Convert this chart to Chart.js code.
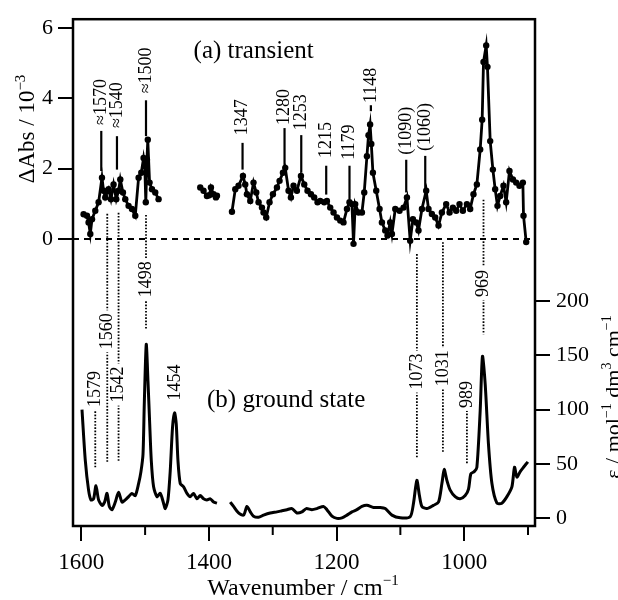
<!DOCTYPE html>
<html>
<head>
<meta charset="utf-8">
<script src="https://cdn.jsdelivr.net/npm/chart.js@4.4.1/dist/chart.umd.min.js"></script>
<style>
  html, body { margin: 0; padding: 0; background: #fff; }
  #wrap { width: 618px; height: 600px; }
</style>
</head>
<body>
<div id="wrap"><canvas id="chart" width="618" height="600"></canvas></div>
<script>
// --- data ---
// (a) transient spectrum, ΔAbs / 10^-3 (null = no data)
const transientWn = [
  1596.4, 1591.1, 1588.6, 1585.9, 1583.2, 1578.1, 1572.9, 1567.6, 1565.1, 1562.4, 1557.2, 1553.5,
  1549.4, 1545.2, 1541.6, 1538.9, 1534.7, 1531.1, 1525.9, 1520.6, 1515.4, 1510.2, 1506.0, 1502.4,
  1500.5, 1498.9, 1497.1, 1495.8, 1493.0, 1489.2, 1484.1, 1478.9,
  1450,
  1413.6, 1408.4, 1403.1, 1399.5, 1396.8, 1392.7, 1389.0, 1387.4,
  1375,
  1363.9, 1358.7, 1353.6, 1346.7, 1343.1, 1340.4, 1335.2, 1330.1, 1325.8, 1322.2, 1316.9, 1314.4,
  1310.2, 1305.0, 1299.7, 1293.4, 1289.3, 1284.0, 1280.4, 1275.2, 1271.5, 1267.4, 1262.1, 1255.8,
  1250.6, 1245.5, 1240.1, 1235.0, 1229.8, 1225.6, 1219.3, 1215.1, 1209.9, 1204.7, 1199.4, 1194.2,
  1189.1, 1183.7, 1179.7, 1175.9, 1173.4, 1170.7, 1165.5, 1160.2, 1156.6, 1152.4, 1149.9, 1147.4,
  1145.5, 1143.0, 1137.8, 1132.6, 1128.9, 1123.7, 1120.1, 1115.9, 1113.2, 1108.0, 1101.3, 1095.0,
  1089.7, 1084.6, 1080.3, 1075.2, 1071.6, 1066.2, 1059.5, 1055.9, 1050.6, 1045.4, 1040.2, 1034.9,
  1028.2, 1022.9, 1017.7, 1012.5, 1007.3, 1002.0, 995.7, 990.6, 985.4, 980.1, 974.9, 971.8,
  969.7, 965.5, 963.5, 959.2, 955.0, 951.4, 947.8, 943.6, 938.4, 934.2, 929.0, 923.6,
  918.5, 913.3, 908.0, 907.0, 902.8
];
const transientVal = [
  0.70, 0.66, 0.47, 0.14, 0.56, 0.80, 1.04, 1.74, 1.37, 1.18, 1.41, 1.13,
  1.55, 1.13, 1.37, 1.69, 1.32, 1.13, 0.94, 0.85, 0.66, 1.74, 1.88, 2.30,
  2.07, 1.04, 2.25, 2.82, 1.60, 1.41, 1.32, 1.13,
  null,
  1.46, 1.37, 1.22, 1.24, 1.46, 1.27, 1.18, 1.23,
  null,
  0.77, 1.41, 1.51, 1.79, 1.55, 1.27, 1.08, 1.60, 1.32, 1.04, 0.89, 0.75,
  0.61, 1.04, 1.27, 1.46, 1.65, 1.88, 2.02, 1.37, 1.18, 1.51, 1.37, 1.79,
  1.55, 1.37, 1.27, 1.18, 1.04, 1.08, 1.04, 1.08, 0.89, 0.75, 0.61, 0.52,
  0.47, 0.85, 1.04, 0.99, -0.14, 0.99, 0.75, 0.75, 1.32, 2.35, 2.95, 3.25,
  2.70, 1.88, 1.37, 0.85, 0.47, 0.24, 0.10, 0.47, 0.14, 0.85, 0.80, 0.89,
  1.18, -0.05, 0.56, 0.47, 0.24, 0.85, 1.37, 0.85, 0.71, 0.61, 0.38, 0.75,
  0.99, 0.75, 0.89, 0.80, 0.99, 0.80, 0.99, 0.85, 1.27, 1.55, 2.54, 3.39,
  5.03, 5.50, 4.89, 2.78, 1.97, 1.41, 0.94, 1.22, 1.51, 1.04, 1.93, 1.69,
  1.60, 1.51, 1.60, 0.66, -0.09
];

// (b) ground state spectrum, ε / mol^-1 dm^3 cm^-1
const groundWn = [
  1598.9, 1593.7, 1588.6, 1584.8, 1580.7, 1577.0, 1572.9, 1567.6, 1563.5, 1559.7, 1556.1, 1551.9,
  1546.7, 1541.6, 1536.2, 1531.1, 1525.9, 1520.6, 1515.4, 1510.2, 1506.5, 1503.3, 1501.3, 1498.2,
  1495.5, 1493.0, 1490.3, 1486.7, 1481.4, 1476.2, 1471.1, 1468.4, 1464.2, 1460.6, 1457.0, 1453.8,
  1451.2, 1448.5, 1444.9, 1439.7, 1434.4, 1429.2, 1424.1, 1418.7, 1413.6, 1408.4, 1403.1, 1397.9,
  1392.7, 1387.4,
  1377,
  1366.6, 1361.4, 1353.6, 1345.7, 1340.4, 1335.2, 1330.1, 1322.2, 1314.4, 1303.9, 1293.4, 1285.6,
  1277.7, 1269.9, 1262.1, 1254.2, 1247.5, 1238.6, 1230.7, 1220.4, 1215.1, 1207.2, 1199.4, 1191.5,
  1183.7, 1175.9, 1168.1, 1160.2, 1152.4, 1142.1, 1131.6, 1123.7, 1113.2, 1100.2, 1084.6, 1079.4,
  1074.2, 1070.1, 1066.2, 1058.4, 1048.1, 1040.2, 1034.9, 1031.3, 1027.1, 1021.9, 1014.1, 1006.3,
  998.4, 993.2, 989.5, 984.3, 980.1, 974.9, 971.3, 967.0, 961.9, 956.5, 948.7, 940.9,
  933.0, 925.2, 921.1, 917.4, 912.2, 907.0, 900.2
];
const groundEps = [
  100, 53, 26, 17, 18, 30, 17, 12, 15, 23, 11, 8,
  15, 24, 15, 17, 20, 23, 21, 32, 43, 59, 105, 160,
  126, 90, 53, 29, 20, 23, 14, 9, 17, 44, 84, 97,
  87, 53, 32, 29, 23, 20, 23, 18, 21, 18, 17, 18,
  15, 14,
  null,
  15, 11, 5, 3, 11, 6, 2, 1, 3, 5, 6, 7,
  8, 9, 5, 6, 9, 8, 9, 11, 8, 2, 0, 0.5,
  3, 6, 8, 11, 12, 10, 10, 9, 3, 0.5, 1.5, 14,
  35, 21, 11, 9, 12, 15, 32, 45, 35, 26, 20, 18,
  21, 27, 41, 43, 47, 99, 149, 123, 68, 32, 14, 14,
  20, 29, 47, 38, 43, 47, 52
];

// axis ticks
const xTicks = [1600, 1400, 1200, 1000];
const xMinorTicks = [1500, 1300, 1100, 900];
const leftTicks = [0, 2, 4, 6];
const rightTicks = [0, 50, 100, 150, 200];

// peak labels of (a): wavenumber, text, where text starts, solid line top/bottom (ΔAbs units)
const transientLabels = [
  { wn: 1568.7, text: '\u22481570', start: 3.24, top: 3.07, bottom: 1.93 },
  { wn: 1544.1, text: '\u22481540', start: 3.15, top: 2.92, bottom: 1.97 },
  { wn: 1498.6, text: '\u22481500', start: 4.14, top: 3.94, bottom: 2.92 },
  { wn: 1347.3, text: '1347', start: 2.95, top: 2.73, bottom: 1.97 },
  { wn: 1281.5, text: '1280', start: 3.24, top: 3.15, bottom: 2.02 },
  { wn: 1255.3, text: '1253', start: 3.09, top: 2.95, bottom: 1.88 },
  { wn: 1216.2, text: '1215', start: 2.30, top: 2.08, bottom: 1.26 },
  { wn: 1179.7, text: '1179', start: 2.25, top: 2.08, bottom: 1.12 },
  { wn: 1146.2, text: '1148', start: 3.86, top: 3.80, bottom: 3.63 },
  { wn: 1090.8, text: '(1090)', start: 2.39, top: 2.25, bottom: 1.32 },
  { wn: 1061.0, text: '(1060)', start: 2.50, top: 2.36, bottom: 1.40 }
];

// peak labels of (b): wavenumber, text, text centre, dotted line top/bottom (ε units)
const groundLabels = [
  { wn: 1578.1, text: '1579', mid: 119, top: 119, bottom: 47 },
  { wn: 1559.3, text: '1560', mid: 172, top: 280, bottom: 51 },
  { wn: 1541.6, text: '1542', mid: 123, top: 281, bottom: 53 },
  { wn: 1498.6, text: '1498', mid: 220, top: 279, bottom: 174 },
  { wn: 1452.7, text: '1454', mid: 125, top: null, bottom: null },
  { wn: 1074.1, text: '1073', mid: 135, top: 243, bottom: 56 },
  { wn: 1033.3, text: '1031', mid: 138, top: 254, bottom: 61 },
  { wn: 995.7, text: '989', mid: 114, top: 114, bottom: 50 },
  { wn: 969.7, text: '969', mid: 216, top: 293, bottom: 169 }
];

const SERIF = '"Liberation Serif", "DejaVu Serif", serif';

function toPoints(xs, ys) {
  return xs.map((x, i) => ({ x: x, y: ys[i] }));
}

// text with superscripts: parts = [[text, isSup], ...]
function richWidth(ctx, parts, size, supSize) {
  let w = 0;
  parts.forEach(p => {
    ctx.font = (p[1] ? supSize : size) + 'px ' + SERIF;
    w += ctx.measureText(p[0]).width;
  });
  return w;
}
function drawRich(ctx, parts, x, y, size, supSize, rise) {
  let cx = x;
  parts.forEach(p => {
    ctx.font = (p[1] ? supSize : size) + 'px ' + SERIF;
    ctx.fillText(p[0], cx, p[1] ? y - rise : y);
    cx += ctx.measureText(p[0]).width;
  });
}

function vText(ctx, str, px, py, align) {
  ctx.save();
  ctx.translate(px, py);
  ctx.rotate(-Math.PI / 2);
  ctx.textAlign = align;
  ctx.textBaseline = 'middle';
  ctx.fillText(str, 0, 0);
  ctx.restore();
}

const decor = {
  id: 'decor',
  beforeDatasetsDraw(chart) {
    const { ctx, chartArea: a, scales } = chart;
    const y0 = scales.yA.getPixelForValue(0);
    ctx.save();
    ctx.strokeStyle = '#000';
    ctx.lineWidth = 2;
    ctx.setLineDash([6, 5]);
    ctx.beginPath();
    ctx.moveTo(a.left, y0);
    ctx.lineTo(a.right, y0);
    ctx.stroke();
    ctx.restore();
  },
  afterDatasetsDraw(chart) {
    const { ctx, scales } = chart;
    const { x, yA, yB } = scales;
    ctx.save();
    ctx.fillStyle = '#000';
    ctx.strokeStyle = '#000';
    ctx.font = '18px ' + SERIF;

    // (a) labels with short solid lines
    transientLabels.forEach(l => {
      const px = x.getPixelForValue(l.wn);
      ctx.lineWidth = 2.2;
      ctx.beginPath();
      ctx.moveTo(px, yA.getPixelForValue(l.top));
      ctx.lineTo(px, yA.getPixelForValue(l.bottom));
      ctx.stroke();
      vText(ctx, l.text, px, yA.getPixelForValue(l.start), 'left');
    });

    // (b) labels sitting on dotted guide lines
    groundLabels.forEach(l => {
      const px = x.getPixelForValue(l.wn);
      if (l.top !== null) {
        ctx.save();
        ctx.lineWidth = 1.8;
        ctx.setLineDash([1.6, 1.6]);
        ctx.beginPath();
        ctx.moveTo(px, yB.getPixelForValue(l.top));
        ctx.lineTo(px, yB.getPixelForValue(l.bottom));
        ctx.stroke();
        ctx.restore();
      }
      const py = yB.getPixelForValue(l.mid);
      const w = ctx.measureText(l.text).width;
      ctx.save();
      ctx.fillStyle = '#fff';
      ctx.fillRect(px - 8, py - w / 2 - 3, 16, w + 6);
      ctx.restore();
      vText(ctx, l.text, px, py, 'center');
    });

    // panel captions
    ctx.font = '25px ' + SERIF;
    ctx.textAlign = 'left';
    ctx.textBaseline = 'alphabetic';
    ctx.fillText('(a) transient', x.getPixelForValue(1424), yA.getPixelForValue(5.13));
    ctx.fillText('(b) ground state', x.getPixelForValue(1403), yB.getPixelForValue(102));
    ctx.restore();
  },
  afterDraw(chart) {
    const { ctx, chartArea: a, scales } = chart;
    ctx.save();
    ctx.strokeStyle = '#000';
    ctx.fillStyle = '#000';
    // frame
    ctx.lineWidth = 2.5;
    ctx.strokeRect(a.left, a.top, a.right - a.left, a.bottom - a.top);
    // minor x ticks
    ctx.lineWidth = 2;
    xMinorTicks.forEach(v => {
      const px = scales.x.getPixelForValue(v);
      ctx.beginPath();
      ctx.moveTo(px, a.bottom);
      ctx.lineTo(px, a.bottom + 9);
      ctx.stroke();
    });

    ctx.textAlign = 'left';
    ctx.textBaseline = 'alphabetic';
    // x title
    const xt = [['Wavenumber / cm', false], ['\u22121', true]];
    const xw = richWidth(ctx, xt, 24, 15);
    drawRich(ctx, xt, 303 - xw / 2, 595, 24, 15, 10);

    // left title
    const lt = [['\u0394Abs / 10', false], ['\u22123', true]];
    const lw = richWidth(ctx, lt, 23, 15);
    ctx.save();
    ctx.translate(34, 129);
    ctx.rotate(-Math.PI / 2);
    drawRich(ctx, lt, -lw / 2, 0, 23, 15, 9);
    ctx.restore();

    // right title (partly cut by the right edge, as in the figure)
    const rt = [['\u03b5 / mol', false], ['\u22121', true], [' dm', false], ['3', true], [' cm', false], ['\u22121', true]];
    const rw = richWidth(ctx, rt, 22, 14);
    ctx.save();
    ctx.translate(620, 397);
    ctx.rotate(-Math.PI / 2);
    drawRich(ctx, rt, -rw / 2, 0, 22, 14, 9);
    ctx.restore();
    ctx.restore();
  }
};

const tickLabel = v => String(v);

const ctx = document.getElementById('chart').getContext('2d');
new Chart(ctx, {
  type: 'line',
  data: {
    datasets: [
      {
        label: 'transient',
        data: toPoints(transientWn, transientVal),
        yAxisID: 'yA',
        borderColor: '#000',
        backgroundColor: '#000',
        borderWidth: 2.8,
        pointRadius: 3.2,
        pointBorderWidth: 0,
        pointBackgroundColor: '#000',
        tension: 0,
        spanGaps: false
      },
      {
        label: 'ground state',
        data: toPoints(groundWn, groundEps),
        yAxisID: 'yB',
        borderColor: '#000',
        borderWidth: 3,
        pointRadius: 0,
        tension: 0.25,
        spanGaps: false
      }
    ]
  },
  options: {
    responsive: false,
    animation: false,
    layout: { padding: { top: 15, left: 0, right: 0, bottom: 0 } },
    plugins: { legend: { display: false }, tooltip: { enabled: false } },
    scales: {
      x: {
        type: 'linear',
        reverse: true,
        min: 889,
        max: 1613,
        afterBuildTicks: s => { s.ticks = xTicks.map(v => ({ value: v })); },
        afterFit: s => { s.height = 74; },
        grid: { drawOnChartArea: false, drawTicks: true, tickLength: 15, color: '#000', lineWidth: 2 },
        border: { display: false },
        ticks: { color: '#000', font: { family: SERIF, size: 23 }, padding: 8, maxRotation: 0, autoSkip: false, callback: tickLabel }
      },
      yA: {
        type: 'linear',
        position: 'left',
        min: -8.16,
        max: 6.245,
        afterBuildTicks: s => { s.ticks = leftTicks.map(v => ({ value: v })); },
        afterFit: s => { s.width = 73; },
        grid: { drawOnChartArea: false, drawTicks: true, tickLength: 15, color: '#000', lineWidth: 2 },
        border: { display: false },
        ticks: { color: '#000', font: { family: SERIF, size: 22 }, padding: 5, autoSkip: false, callback: tickLabel }
      },
      yB: {
        type: 'linear',
        position: 'right',
        min: -7,
        max: 459,
        afterBuildTicks: s => { s.ticks = rightTicks.map(v => ({ value: v })); },
        afterFit: s => { s.width = 83; },
        grid: { drawOnChartArea: false, drawTicks: true, tickLength: 15, color: '#000', lineWidth: 2 },
        border: { display: false },
        ticks: { color: '#000', font: { family: SERIF, size: 22 }, padding: 6, autoSkip: false, callback: tickLabel }
      }
    }
  },
  plugins: [decor]
});
</script>
</body>
</html>
